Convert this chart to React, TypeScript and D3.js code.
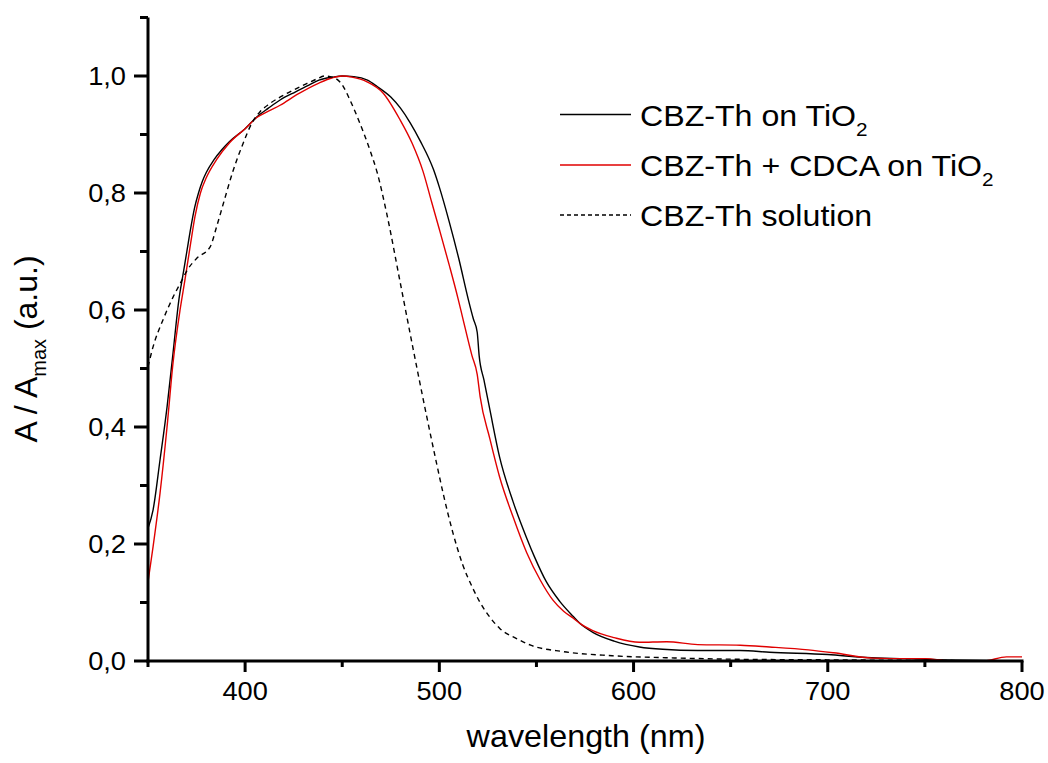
import React from "react";
import * as d3 from "d3";

type P = [number, number];

const blackFilm: P[] = [
  [350, 0.227], [352.6, 0.258], [356.2, 0.344], [359.8, 0.434], [362.9, 0.527], [366, 0.62],
  [368, 0.66], [370, 0.70], [372, 0.74], [374, 0.775], [376, 0.80], [378, 0.82], [380, 0.835],
  [384, 0.857], [388, 0.874], [392, 0.888], [400, 0.91], [406, 0.93], [412, 0.945], [418, 0.959],
  [426, 0.973], [432, 0.983], [438, 0.993], [445, 0.998], [450, 1.0], [456, 0.999], [463, 0.993],
  [468, 0.982], [475, 0.964], [480, 0.945], [485, 0.92], [490, 0.89], [497, 0.84], [500, 0.81],
  [505, 0.752], [510, 0.688], [515, 0.617], [517.5, 0.585], [519.5, 0.562], [520.5, 0.522],
  [523, 0.48], [526, 0.43], [531, 0.349], [538, 0.272], [545, 0.21], [549, 0.178], [555, 0.136],
  [562, 0.102], [569, 0.076], [572.5, 0.064], [579, 0.049], [590, 0.034], [603, 0.024],
  [615, 0.02], [633, 0.018], [655, 0.018], [670, 0.015], [700, 0.011], [720, 0.006],
  [740, 0.004], [760, 0.002], [780, 0.001], [800, 0.0],
];

const redFilm: P[] = [
  [350, 0.135], [352.6, 0.195], [356.2, 0.287], [359.8, 0.40], [362.9, 0.51], [366.5, 0.6],
  [369, 0.651], [372, 0.715], [374.2, 0.76], [377, 0.80], [380, 0.826], [385.3, 0.857],
  [392, 0.886], [400, 0.91], [406, 0.929], [412, 0.94], [418, 0.95], [426.6, 0.968], [438, 0.988],
  [445, 0.997], [450, 1.0], [455, 0.998], [462.8, 0.99], [471, 0.971], [479.8, 0.925],
  [486, 0.885], [491.6, 0.837], [496, 0.785], [500, 0.738], [505, 0.678], [509.6, 0.62],
  [512, 0.587], [516.8, 0.522], [519.5, 0.49], [521, 0.452], [526, 0.38], [531, 0.315],
  [538, 0.246], [545, 0.185], [552, 0.138], [558.5, 0.104], [564, 0.085], [569, 0.073],
  [572.5, 0.064], [579, 0.052], [590, 0.04], [603, 0.032], [617, 0.033], [633, 0.028],
  [655, 0.027], [670, 0.024], [690, 0.019], [703, 0.014], [723, 0.005], [741, 0.004],
  [750, 0.004], [764, 0.0], [780, 0.0], [792, 0.007], [800, 0.007],
];

const solution: P[] = [
  [350, 0.503], [352.6, 0.537], [357.7, 0.583], [362.9, 0.622], [367.5, 0.651], [370, 0.667],
  [375, 0.688], [382, 0.708], [385.3, 0.742], [388.8, 0.782], [393.9, 0.839], [399, 0.885],
  [403.4, 0.919], [407.7, 0.939], [412.8, 0.953], [421.4, 0.97], [431.7, 0.987], [437, 0.995],
  [441, 1.0], [445, 0.998], [450, 0.985], [454, 0.959], [459, 0.92], [464.3, 0.873],
  [468, 0.835], [472.9, 0.765], [479.8, 0.648], [486.6, 0.532], [493.5, 0.418], [498.7, 0.336],
  [502, 0.286], [507, 0.219], [512, 0.165], [517, 0.126], [521, 0.1], [526, 0.075],
  [531, 0.056], [540, 0.038], [547, 0.027], [564, 0.016], [589, 0.009], [624, 0.005],
  [653, 0.003], [700, 0.002], [750, 0.001], [800, 0.0],
];

const xMajorTicks = [400, 500, 600, 700, 800];
const xMinorTicks = [350, 450, 550, 650, 750];
const yMajorTicks = [0, 0.2, 0.4, 0.6, 0.8, 1.0];
const yMinorTicks = [0.1, 0.3, 0.5, 0.7, 0.9, 1.1];

const seriesNames = ["CBZ-Th on TiO", "CBZ-Th + CDCA on TiO", "CBZ-Th solution"];
const seriesSubs = ["2", "2", ""];
const seriesColors = ["#000000", "#e00000", "#000000"];
const seriesDash = [null, null, "5,4"];

const FONT = "'Liberation Sans', Arial, sans-serif";

export default function App() {
  const x = d3.scaleLinear().domain([350, 800]).range([148, 1022]);
  const y = d3.scaleLinear().domain([0, 1.1]).range([661, 17.5]);
  const line = d3
    .line<P>()
    .x((d) => x(d[0]))
    .y((d) => y(d[1]))
    .curve(d3.curveMonotoneX);

  const data = [blackFilm, redFilm, solution];
  const fmt = (v: number) => v.toFixed(1).replace(".", ",");
  const legendY = [114.5, 165, 215];
  const sx = 1.09;

  return (
    <svg
      width={1048}
      height={763}
      style={{ position: "absolute", left: 0, top: 0, background: "#fff" }}
      fontFamily={FONT}
    >
      <rect width={1048} height={763} fill="#fff" />
      {data.map((d, i) => (
        <path
          key={i}
          d={line(d) || ""}
          fill="none"
          stroke={seriesColors[i]}
          strokeWidth={1.4}
          strokeDasharray={seriesDash[i] || undefined}
        />
      ))}
      {/* axes */}
      <line x1={148} x2={148} y1={y(1.1)} y2={662.5} stroke="#000" strokeWidth={3} />
      <line x1={146.5} x2={1023.5} y1={661} y2={661} stroke="#000" strokeWidth={3} />
      {xMajorTicks.map((t) => (
        <g key={"xM" + t}>
          <line x1={x(t)} x2={x(t)} y1={661} y2={672} stroke="#000" strokeWidth={3} />
          <text
            transform={`translate(${x(t)},700) scale(${sx},1)`}
            textAnchor="middle"
            fontSize={25}
          >
            {t}
          </text>
        </g>
      ))}
      {xMinorTicks.map((t) => (
        <line key={"xm" + t} x1={x(t)} x2={x(t)} y1={661} y2={667} stroke="#000" strokeWidth={3} />
      ))}
      {yMajorTicks.map((t) => (
        <g key={"yM" + t}>
          <line x1={134} x2={148} y1={y(t)} y2={y(t)} stroke="#000" strokeWidth={3} />
          <text
            transform={`translate(126,${y(t) + 9}) scale(${sx},1)`}
            textAnchor="end"
            fontSize={25}
          >
            {fmt(t)}
          </text>
        </g>
      ))}
      {yMinorTicks.map((t) => (
        <line key={"ym" + t} x1={140} x2={148} y1={y(t)} y2={y(t)} stroke="#000" strokeWidth={3} />
      ))}
      {/* axis titles */}
      <text transform={`translate(586,747) scale(1.06,1)`} textAnchor="middle" fontSize={30.5}>
        wavelength (nm)
      </text>
      <text transform="translate(37,349) rotate(-90)" textAnchor="middle" fontSize={32}>
        A / A
        <tspan fontSize={20} dy={9}>max</tspan>
        <tspan dy={-9}> (a.u.)</tspan>
      </text>
      {/* legend */}
      {seriesNames.map((n, i) => (
        <g key={"lg" + i}>
          <line
            x1={560}
            x2={631}
            y1={legendY[i]}
            y2={legendY[i]}
            stroke={seriesColors[i]}
            strokeWidth={1.4}
            strokeDasharray={seriesDash[i] ? "4,3" : undefined}
          />
          <text transform={`translate(640,${legendY[i] + 11}) scale(${sx},1)`} fontSize={29.5}>
            {n}
            {seriesSubs[i] ? (
              <tspan fontSize={19} dy={10}>
                {seriesSubs[i]}
              </tspan>
            ) : null}
          </text>
        </g>
      ))}
    </svg>
  );
}
